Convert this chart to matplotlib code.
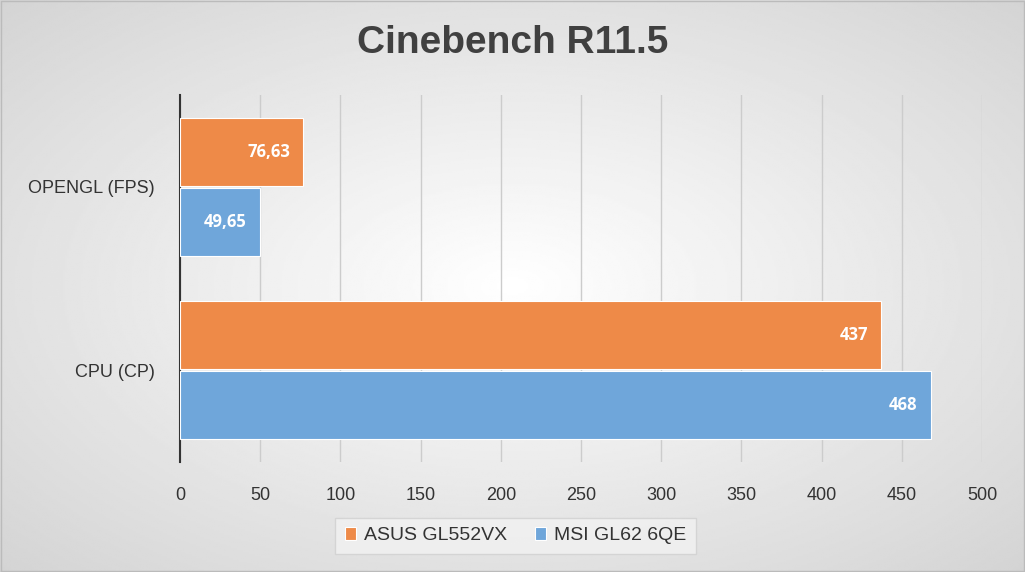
import matplotlib
matplotlib.use("Agg")
import matplotlib.pyplot as plt
import numpy as np

plt.rcParams['font.family'] = ['Liberation Sans', 'DejaVu Sans']

categories = ["CPU (CP)", "OPENGL (FPS)"]
asus = [437, 76.63]
msi = [468, 49.65]
asus_lbl = ["437", "76,63"]
msi_lbl = ["468", "49,65"]
series_names = ["ASUS GL552VX", "MSI GL62 6QE"]
xticks = [0, 50, 100, 150, 200, 250, 300, 350, 400, 450, 500]

orange = "#EE8A48"
blue = "#6FA6DA"

fig = plt.figure(figsize=(10.25, 5.72), dpi=100)
bg = fig.add_axes([0, 0, 1, 1], zorder=-10)
yy, xx = np.mgrid[-1:1:300j, -1:1:500j]
r = np.sqrt(xx**2 + yy**2) / np.sqrt(2)
bg.imshow(1 - 0.17 * r, cmap="gray", vmin=0, vmax=1, aspect="auto", extent=[0, 1, 0, 1])
bg.plot([0.001, 0.999, 0.999, 0.001, 0.001], [0.001, 0.001, 0.999, 0.999, 0.001], color="#bbbbbb", lw=1)
bg.set_xlim(0, 1); bg.set_ylim(0, 1)
bg.axis("off")

ax = fig.add_axes([0.1756, 0.1923, 0.7824, 0.6417])
ax.patch.set_alpha(0)
y = np.arange(len(categories))
h = 0.37
b1 = ax.barh(y + h / 2 + 0.005, asus, height=h, color=orange, edgecolor="white", lw=0.8, label=series_names[0], zorder=3)
b2 = ax.barh(y - h / 2 - 0.005, msi, height=h, color=blue, edgecolor="white", lw=0.8, label=series_names[1], zorder=3)
for bars, lbls in ((b1, asus_lbl), (b2, msi_lbl)):
    for b, l in zip(bars, lbls):
        ax.text(b.get_width() - 8, b.get_y() + b.get_height() / 2, l, ha="right", va="center",
                color="white", fontweight="bold", fontsize=12, zorder=4, family=["Open Sans", "DejaVu Sans"])
ax.set_xlim(0, 500)
ax.set_ylim(-0.5, 1.5)
ax.set_xticks(xticks)
ax.set_yticks(y)
ax.set_yticklabels(categories)
ax.tick_params(axis="both", labelsize=13, colors="#333333", length=0, pad=18)
ax.grid(axis="x", color="#cccccc", lw=1, zorder=0)
for s in ["top", "right", "bottom"]:
    ax.spines[s].set_visible(False)
ax.spines["left"].set_color("#333333")
ax.spines["left"].set_linewidth(1.5)

fig.text(0.5, 0.925, "Cinebench R11.5", ha="center", va="center", fontsize=28, fontweight="bold", color="#404040")
leg = fig.legend(loc="center", bbox_to_anchor=(0.503, 0.063), ncol=2, fontsize=14, frameon=True,
                 fancybox=False, edgecolor="#d0d0d0", handlelength=0.6, handleheight=0.6, columnspacing=1.4,
                 handletextpad=0.4, borderpad=0.5)
for t in leg.get_texts():
    t.set_color("#333333")
leg.get_frame().set_facecolor("#f2f2f2")
fig.savefig("out.png", dpi=100)
